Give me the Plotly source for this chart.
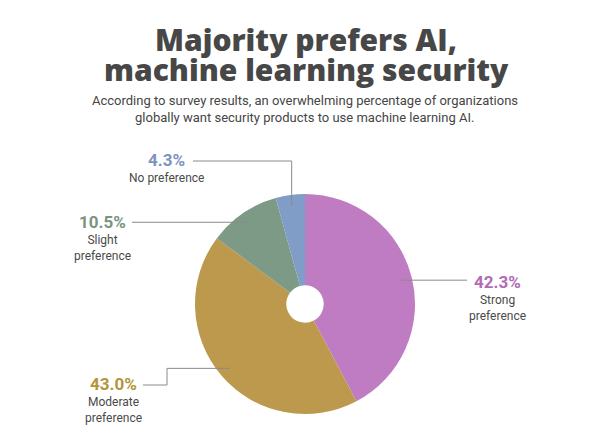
import math
import plotly.graph_objects as go

categories = ["Strong preference", "Moderate preference", "Slight preference", "No preference"]
label_lines = ["Strong<br>preference", "Moderate<br>preference", "Slight<br>preference", "No preference"]
values = [42.3, 43.0, 10.5, 4.3]
slice_colors = ["#C07CC3", "#BC994C", "#7D9A86", "#7F9DC6"]
text_colors = ["#B26BB6", "#B3953A", "#7A957F", "#7D94C0"]

W, H = 600, 443
CX, CY, R = 305, 304, 110


def px(x):
    return x / W


def py(y):
    return 1 - y / H


fig = go.Figure()
fig.add_trace(go.Pie(
    labels=categories, values=values, sort=False, direction="clockwise",
    rotation=0, hole=0.17, marker=dict(colors=slice_colors, line=dict(width=0)),
    textinfo="none", hoverinfo="label+percent", showlegend=False,
    domain=dict(x=[px(CX - R), px(CX + R)], y=[py(CY + R), py(CY - R)]),
))

# anchor points at mid-angle of each slice
total = sum(values)
anchors = []
cum = 0
for v in values:
    mid = (cum + v / 2) / total * 2 * math.pi
    cum += v
    r = 0.9 * R
    anchors.append((CX + r * math.sin(mid), CY - r * math.cos(mid)))

line_style = dict(color="#8a8a8a", width=1)

# leader line paths (elbows are layout positions)
paths = []
ax, ay = anchors[0]
paths.append([(ax, ay), (467, ay)])
ax, ay = anchors[1]
paths.append([(ax, ay), (167, ay), (167, 385), (143, 385)])
ax, ay = anchors[2]
paths.append([(ax, ay), (132, ay)])
ax, ay = anchors[3]
paths.append([(ax, ay), (ax, 161), (193, 161)])

for p in paths:
    d = "M " + " L ".join(f"{px(x)},{py(y)}" for x, y in p)
    fig.add_shape(type="path", path=d, xref="paper", yref="paper", line=line_style)

# label positions (pct center x, pct center y)
label_pos = [(497, 282), (113, 384), (102, 222), (166, 160)]
annotations = []
for i, (lx, ly) in enumerate(label_pos):
    annotations.append(dict(
        x=px(lx), y=py(ly), xref="paper", yref="paper", showarrow=False,
        text=f"<b>{values[i]:.1f}%</b>",
        font=dict(family="Roboto", size=17, color=text_colors[i], weight=900),
        xanchor="center", yanchor="middle"))
    annotations.append(dict(
        x=px(lx), y=py(ly + 9), xref="paper", yref="paper", showarrow=False,
        text=label_lines[i], font=dict(family="Roboto", size=12, color="#4a4a4a"),
        xanchor="center", yanchor="top", align="center"))

title_lines = ["Majority prefers AI,", "machine learning security"]
subtitle_lines = [
    "According to survey results, an overwhelming percentage of organizations",
    "globally want security products to use machine learning AI.",
]
for text, y in zip(title_lines, [40, 69]):
    annotations.append(dict(
        x=0.51, y=py(y), xref="paper", yref="paper", showarrow=False,
        text=text, font=dict(family="Open Sans", size=30, color="#474747", weight=800),
        xanchor="center", yanchor="middle"))
for text, y in zip(subtitle_lines, [101, 117]):
    annotations.append(dict(
        x=0.508, y=py(y), xref="paper", yref="paper", showarrow=False,
        text=text, font=dict(family="Roboto", size=13, color="#454545"),
        xanchor="center", yanchor="middle"))

fig.update_layout(
    width=W, height=H, margin=dict(l=0, r=0, t=0, b=0),
    paper_bgcolor="white", plot_bgcolor="white",
    annotations=annotations,
)
fig.write_html("out.html")
